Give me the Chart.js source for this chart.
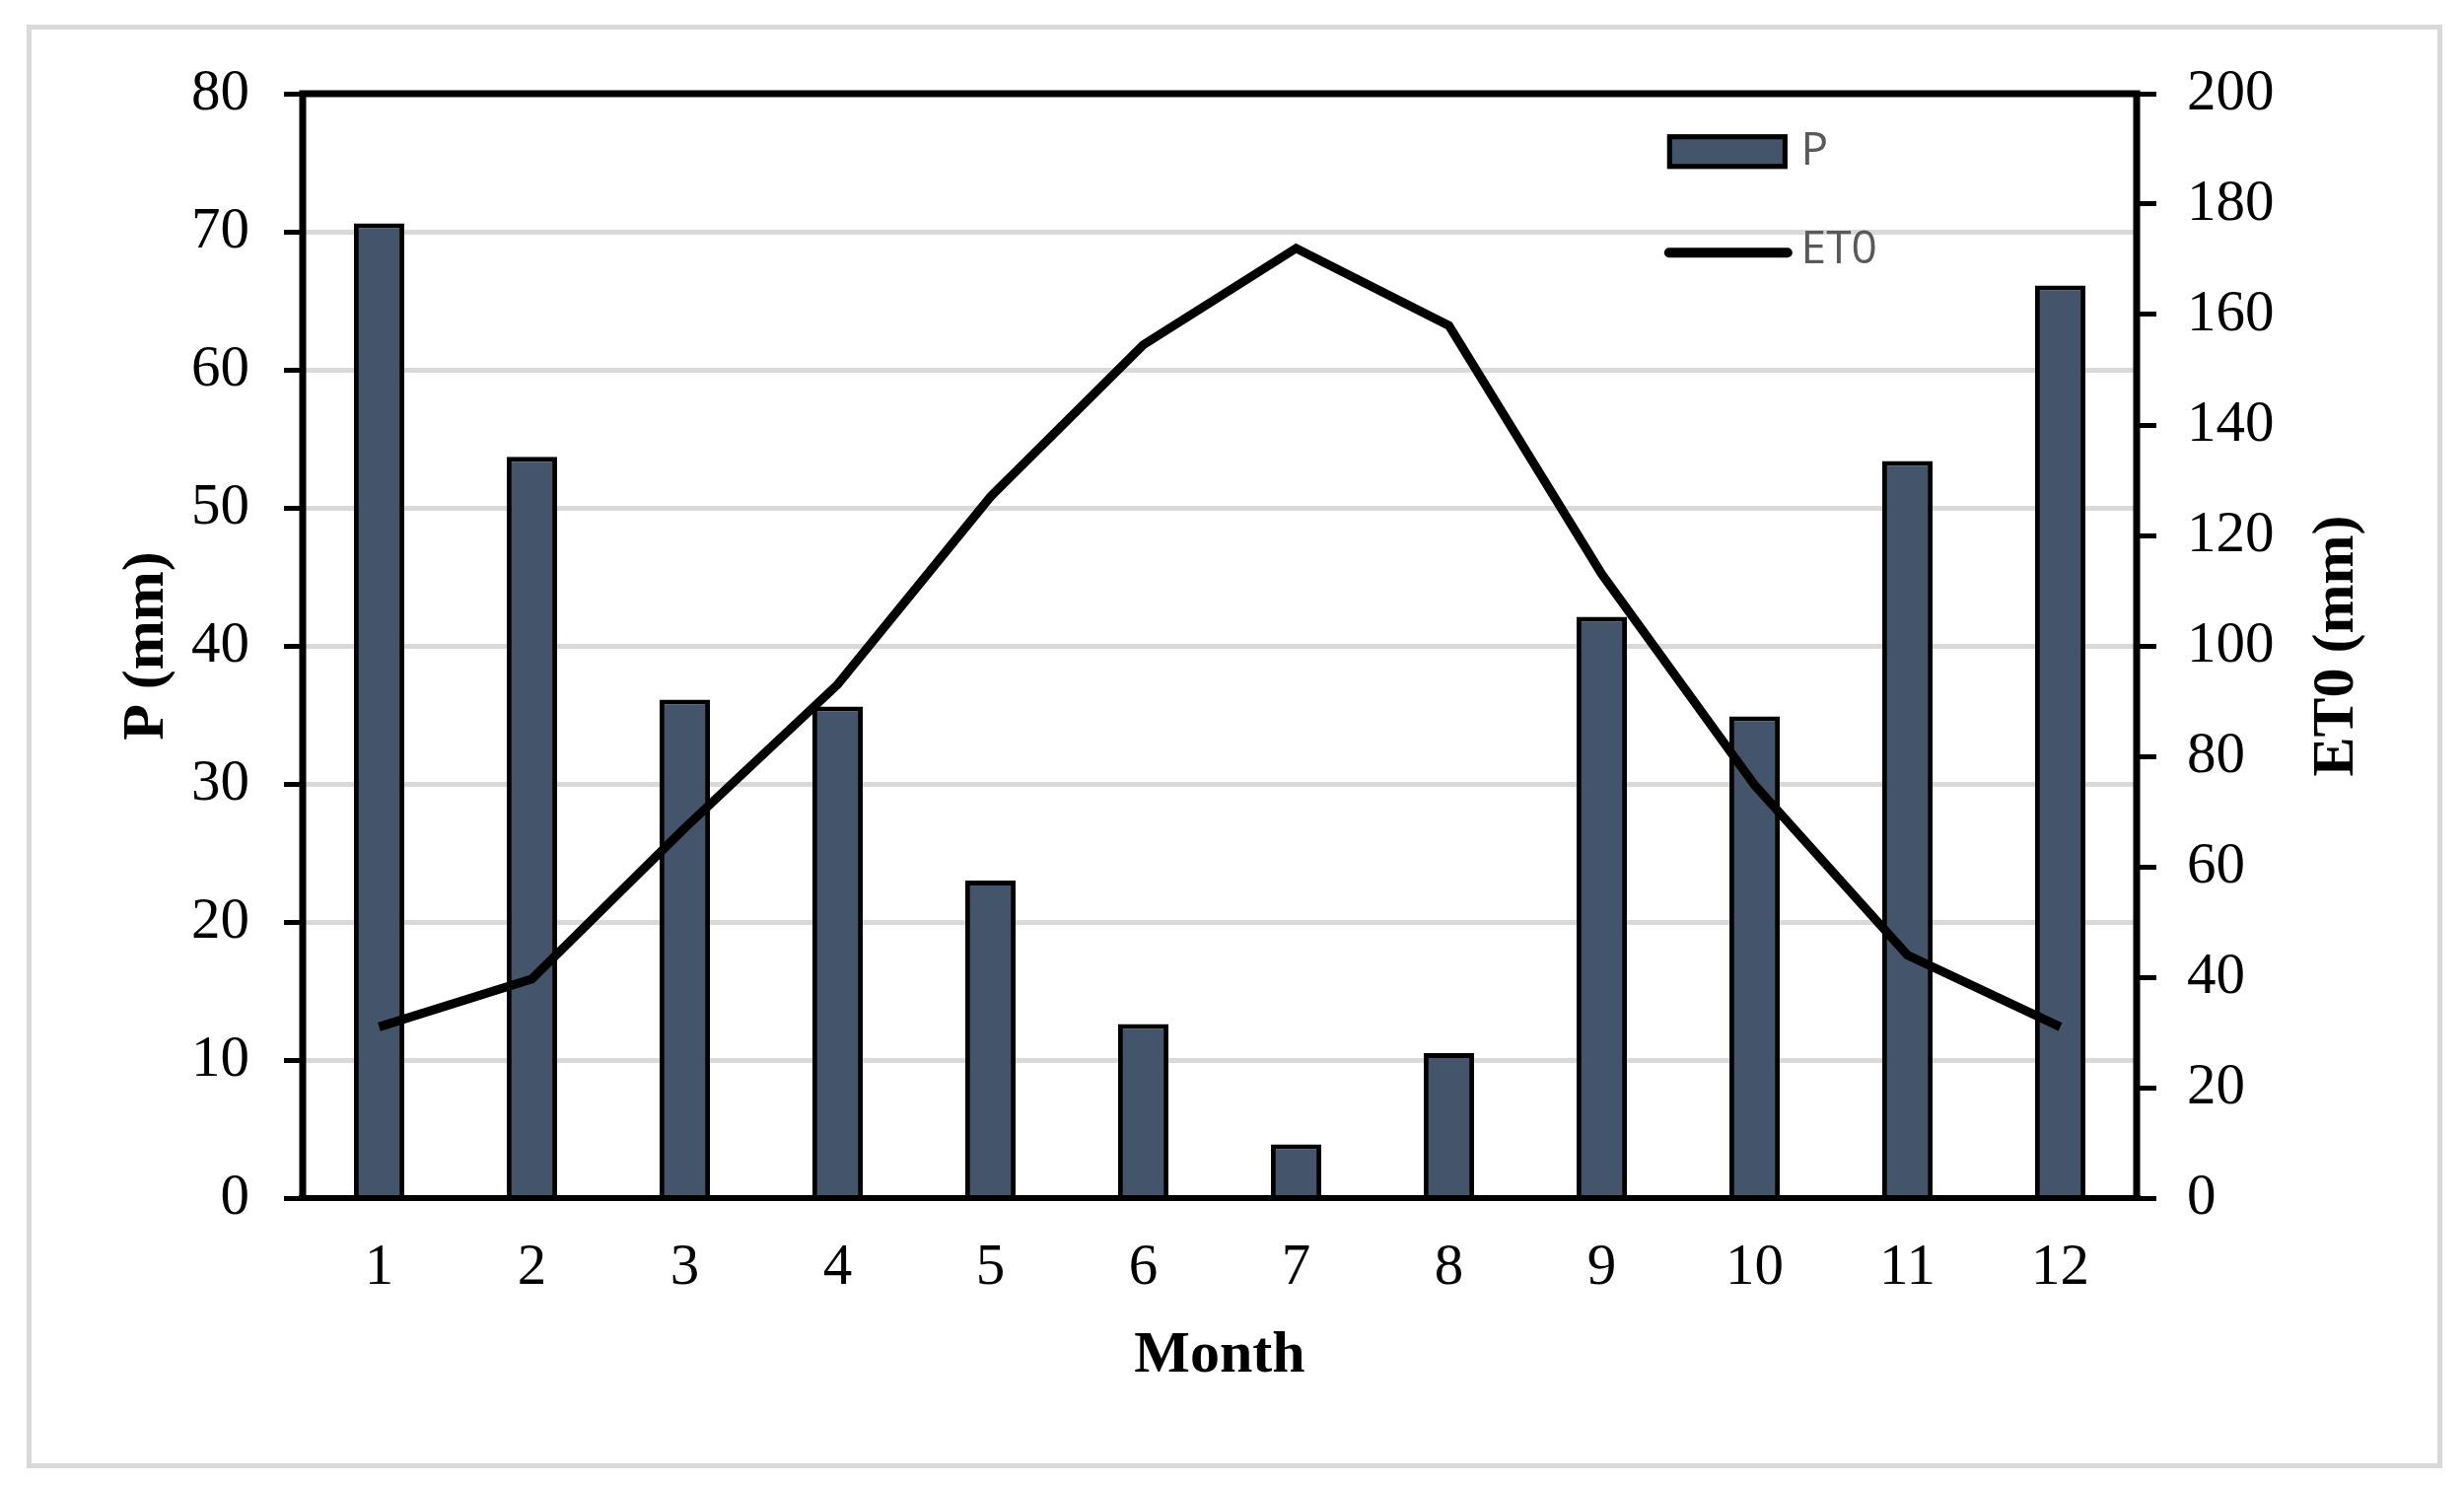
<!DOCTYPE html>
<html><head><meta charset="utf-8">
<script src="https://cdn.jsdelivr.net/npm/chart.js@4.4.1/dist/chart.umd.min.js"></script>
<style>html,body{margin:0;padding:0;background:#fff;overflow:hidden}#wrap{position:relative;width:2499px;height:1507px}</style>
</head><body><div id="wrap"><canvas id="c" width="2499" height="1507"></canvas></div>
<script>
// ---- data ----
const months = ['1','2','3','4','5','6','7','8','9','10','11','12'];
const precipitation = [70.6, 53.7, 36.1, 35.6, 23.0, 12.6, 3.9, 10.5, 42.1, 34.9, 53.4, 66.1];
const et0 = [31, 39.7, 67, 93, 127, 154.5, 172, 158, 113, 74.8, 44, 31];
const pAxis = [0, 80, 10];     // min, max, step
const etAxis = [0, 200, 20];   // min, max, step
const seriesNames = ['P', 'ET0'];
const axisTitles = ['Month', 'P (mm)', 'ET0 (mm)'];

const serif = "'Liberation Serif', 'Times New Roman', serif";
const barColor = '#44546a';

const framePlugin = {
  id: 'frame',
  beforeDraw(chart) {
    const ctx = chart.ctx;
    ctx.save();
    ctx.fillStyle = '#fff';
    ctx.fillRect(0, 0, chart.width, chart.height);
    ctx.strokeStyle = '#d9d9d9';
    ctx.lineWidth = 5;
    ctx.strokeRect(29.5, 27.5, chart.width - 54, chart.height - 48);
    ctx.restore();
  },
  afterDraw(chart) {
    const ctx = chart.ctx, a = chart.chartArea;
    ctx.save();
    ctx.strokeStyle = '#000';
    ctx.lineWidth = 7;
    ctx.beginPath();
    ctx.moveTo(a.left, a.bottom); ctx.lineTo(a.left, a.top); ctx.lineTo(a.right, a.top); ctx.lineTo(a.right, a.bottom);
    ctx.stroke();
    ctx.lineWidth = 6;
    ctx.beginPath(); ctx.moveTo(a.left - 4, a.bottom); ctx.lineTo(a.right + 4, a.bottom); ctx.stroke();
    // right axis title, reading bottom-to-top like the left one
    const r = chart.scales.y1;
    ctx.save();
    ctx.translate(r.right - 129, (a.top + a.bottom) / 2);
    ctx.rotate(-Math.PI / 2);
    ctx.fillStyle = '#000';
    ctx.font = "bold 60px " + serif;
    ctx.textAlign = 'center'; ctx.textBaseline = 'middle';
    ctx.fillText(axisTitles[2], 0, 0);
    ctx.restore();
    // legend
    const w = a.right - a.left, h = a.bottom - a.top;
    const lx = a.left + w * 0.744, tx = a.left + w * 0.817;
    const y1 = a.top + h * 0.052, y2 = a.top + h * 0.144;
    const ds = chart.data.datasets;
    ctx.fillStyle = ds[0].backgroundColor;
    ctx.fillRect(lx, y1 - 17, 122, 35);
    ctx.strokeStyle = ds[0].borderColor; ctx.lineWidth = 5;
    ctx.strokeRect(lx + 2.5, y1 - 14.5, 117, 30);
    ctx.strokeStyle = ds[1].borderColor; ctx.lineWidth = 10; ctx.lineCap = 'round';
    ctx.beginPath(); ctx.moveTo(lx + 2, y2); ctx.lineTo(lx + 122, y2); ctx.stroke();
    ctx.fillStyle = '#595959';
    ctx.font = "46px 'Open Sans', sans-serif";
    ctx.textBaseline = 'middle'; ctx.textAlign = 'left';
    ctx.fillText(ds[0].label, tx, y1 + 1);
    ctx.fillText(ds[1].label, tx, y2 - 2);
    ctx.restore();
  }
};

new Chart(document.getElementById('c'), {
  type: 'bar',
  data: {
    labels: months,
    datasets: [
      { type: 'bar', label: seriesNames[0], data: precipitation, yAxisID: 'y',
        backgroundColor: barColor, borderColor: '#000', borderWidth: 5,
        categoryPercentage: 1, barPercentage: 0.33, order: 2 },
      { type: 'line', label: seriesNames[1], data: et0, yAxisID: 'y1',
        borderColor: '#000', backgroundColor: '#000', borderWidth: 9,
        pointRadius: 0, tension: 0, fill: false, order: 1 }
    ]
  },
  options: {
    responsive: false, devicePixelRatio: 1, animation: false,
    layout: { padding: { top: 95, left: 0, right: 0, bottom: 0 } },
    plugins: { legend: { display: false }, tooltip: { enabled: false } },
    scales: {
      x: {
        type: 'category', offset: true,
        grid: { display: false, drawTicks: false },
        border: { display: false },
        ticks: { color: '#000', font: { family: serif, size: 59 }, padding: 36, maxRotation: 0 },
        title: { display: true, text: axisTitles[0], color: '#000', font: { family: serif, size: 60, weight: 'bold' }, padding: { top: 0, bottom: 96 } },
        afterFit(s) { s.height = 292; }
      },
      y: {
        position: 'left', min: pAxis[0], max: pAxis[1],
        ticks: { stepSize: pAxis[2], color: '#000', font: { family: serif, size: 59 }, padding: 35 },
        grid: { color: (c) => (c.tick && (c.tick.value === pAxis[0] || c.tick.value === pAxis[1])) ? 'rgba(0,0,0,0)' : '#d9d9d9',
                lineWidth: 5, drawTicks: true, tickLength: 19, tickColor: '#000', tickWidth: 5 },
        border: { display: false },
        title: { display: true, text: axisTitles[1], color: '#000', font: { family: serif, size: 60, weight: 'bold' }, padding: { top: 113, bottom: 0 } },
        afterFit(s) { s.width = 307; }
      },
      y1: {
        position: 'right', min: etAxis[0], max: etAxis[1],
        ticks: { stepSize: etAxis[2], color: '#000', font: { family: serif, size: 59 }, padding: 31 },
        grid: { drawOnChartArea: false, drawTicks: true, tickLength: 20, tickColor: '#000', tickWidth: 5, color: '#000' },
        border: { display: false },
        title: { display: false },
        afterFit(s) { s.width = 332; }
      }
    }
  },
  plugins: [framePlugin]
});
</script>
</body></html>
